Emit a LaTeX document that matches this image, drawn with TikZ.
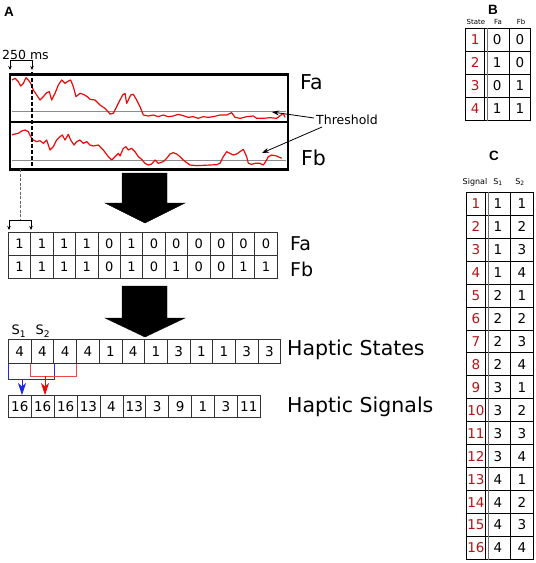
\documentclass[tikz,border=0pt]{standalone}
\usepackage{fontspec}
\setmainfont{DejaVu Sans}
\newfontfamily\labfont{Liberation Sans}
\usetikzlibrary{arrows.meta,calc}
\definecolor{dred}{RGB}{180,20,20}
\definecolor{sigred}{RGB}{235,10,10}
\definecolor{bblue}{RGB}{30,40,230}
\definecolor{bred}{RGB}{240,70,70}
\begin{document}
\begin{tikzpicture}[x=1pt,y=-1pt,
  cell/.style={draw=black!80, line width=0.7pt, inner sep=0pt, anchor=north west, font=\fontsize{13}{13}\selectfont},
  tcell/.style={draw=black, line width=0.9pt, inner sep=0pt, anchor=north west, font=\fontsize{13.5}{13.5}\selectfont},
  biglabel/.style={anchor=west, inner sep=0pt, font=\fontsize{20.5}{20.5}\selectfont},
  panel/.style={inner sep=0pt, font=\labfont\bfseries\fontsize{13.5}{13.5}\selectfont},
  plotbox/.style={draw=black, line width=2.6pt, anchor=north west, inner sep=0pt},
  signal/.style={sigred, line width=1.2pt, line join=round},
  thresh/.style={black!45, line width=0.8pt},
  smallarrow/.style={-{Stealth[length=4pt,width=3.5pt]}, line width=0.7pt},
  bigarrow/.style={fill=black},
  bracketarrow/.style={-{Stealth[length=12pt,width=8pt,inset=3.5pt]}, line width=0.8pt}
]
\useasboundingbox (0,0) rectangle (536,563);

% ---------- Panel labels
\node[panel] (pA) at (9,12) {A};
\node[panel] (pB) at (493,10) {B};
\node[panel] (pC) at (494,156) {C};

% ---------- Panel A: plots
\node[plotbox, minimum width=278pt, minimum height=47.5pt] (boxfa) at (8.7,73.2) {};
\node[plotbox, minimum width=278pt, minimum height=47.5pt] (boxfb) at (8.7,120.7) {};
\node[biglabel] (lfa) at (300,82) {Fa};
\node[biglabel] (lfb) at (301,158) {Fb};

\draw[thresh] (12,111.5) -- (286,111.5);
\draw[thresh] (12,160) -- (286,160);

\begin{scope}[scale=1/3]
\draw[signal] (36,240)--(45,235)--(55,245)--(62,258)--(70,250)--(78,233)--(85,240)--(92,250)--(100,270)--(110,285)--(120,300)--(130,290)--(140,278)--(148,275)--(155,300)--(165,280)--(175,255)--(185,240)--(195,250)--(205,243)--(212,240)--(220,260)--(228,290)--(240,280)--(250,283)--(262,290)--(270,298)--(285,300)--(300,315)--(315,325)--(330,342)--(340,340)--(350,320)--(360,300)--(368,285)--(375,280)--(380,310)--(385,300)--(392,285)--(400,283)--(410,300)--(420,320)--(430,345)--(445,348)--(460,345)--(475,350)--(490,345)--(505,350)--(520,348)--(535,343)--(550,347)--(565,352)--(580,350)--(595,355)--(610,350)--(625,352)--(640,350)--(660,345)--(680,345)--(695,338)--(705,352)--(720,355)--(740,350)--(760,348)--(770,355)--(790,355)--(810,353)--(830,355)--(850,340)--(855,352);
\draw[signal] (36,405)--(45,402)--(55,400)--(65,393)--(75,390)--(85,395)--(92,410)--(100,420)--(110,425)--(120,422)--(130,430)--(140,420)--(150,450)--(160,440)--(170,420)--(180,410)--(187,405)--(195,420)--(205,403)--(212,420)--(222,435)--(230,425)--(240,420)--(250,430)--(260,425)--(270,435)--(280,438)--(295,435)--(310,450)--(325,470)--(335,480)--(345,470)--(355,460)--(360,468)--(370,445)--(378,440)--(385,450)--(395,445)--(405,455)--(415,470)--(425,478)--(435,490)--(445,495)--(455,492)--(465,480)--(475,490)--(490,485)--(500,475)--(510,462)--(520,458)--(530,462)--(540,470)--(550,480)--(560,488)--(570,495)--(590,497)--(610,496)--(630,495)--(650,494)--(660,490)--(670,470)--(680,455)--(690,460)--(700,465)--(710,462)--(720,455)--(730,448)--(740,470)--(745,490)--(755,493)--(765,490)--(780,490)--(790,495)--(800,480)--(805,470)--(815,465)--(830,468)--(845,475);
\end{scope}

% Threshold label and arrows
\node[anchor=west, inner sep=0pt, font=\fontsize{12.5}{12.5}\selectfont] (thr) at (316,120) {Threshold};
\coordinate (thrs1) at (314,118);
\coordinate (thrs2) at (322,127);
\coordinate (thrt1) at (272,112);
\coordinate (thrt2) at (262,153);
\draw[-{Stealth[length=7pt,width=5pt]}, line width=0.8pt] (thrs1) -- (thrt1);
\draw[-{Stealth[length=7pt,width=5pt]}, line width=0.8pt] (thrs2) -- (thrt2);

% 250 ms window
\node[anchor=west, inner sep=0pt, font=\fontsize{12.5}{12.5}\selectfont] (ms) at (2,55) {250 ms};
\coordinate (w1) at (10,60);
\coordinate (w2) at (32,60);
\draw[line width=0.7pt] (w1) -- (w2);
\draw[smallarrow] (w1) -- (10,70);
\draw[smallarrow] (w2) -- (32,70);
\draw[line width=1.2pt, dash pattern=on 4pt off 2pt] (32,72) -- (boxfb.south -| w2);

% window below
\coordinate (d0) at (20,169);
\coordinate (d1) at (20,220);
\draw[black!60, line width=1pt, dash pattern=on 3pt off 1.5pt] (d0) -- (d1);
\draw[line width=0.7pt] (9,220) -- (31,220);
\draw[smallarrow] (9,220) -- (9,230);
\draw[smallarrow] (31,220) -- (31,230);

% big arrows
\draw[bigarrow] (122,173) -- (167,173) -- (167,203) -- (185,203) -- (145,223) -- (105,203) -- (122,203) -- cycle;
\draw[bigarrow] (122,286) -- (167,286) -- (167,318) -- (185,318) -- (145,337) -- (105,318) -- (122,318) -- cycle;

% Fa / Fb binary rows
\foreach \v [count=\i] in {1,1,1,1,0,1,0,0,0,0,0,0}
  \node[cell, minimum width=22.4pt, minimum height=23pt] (fa\i) at ({8+(\i-1)*22.4},232) {\v};
\foreach \v [count=\i] in {1,1,1,1,0,1,0,1,0,0,1,1}
  \node[cell, minimum width=22.4pt, minimum height=23pt] (fb\i) at ({8+(\i-1)*22.4},255) {\v};
\node[biglabel, font=\fontsize{19}{19}\selectfont] (lfa2) at (290,244) {Fa};
\node[biglabel, font=\fontsize{19}{19}\selectfont] (lfb2) at (290,269) {Fb};

% Haptic states
\foreach \v [count=\i] in {4,4,4,4,1,4,1,3,1,1,3,3}
  \node[cell, minimum width=22.7pt, minimum height=24pt, font=\fontsize{13.5}{13.5}\selectfont] (st\i) at ({8+(\i-1)*22.7},339) {\v};
\node[inner sep=0pt, font=\fontsize{13}{13}\selectfont] (s1l) at (19,331) {S\textsubscript{1}};
\node[inner sep=0pt, font=\fontsize{13}{13}\selectfont] (s2l) at (43,331) {S\textsubscript{2}};
\node[biglabel] (lhs) at (287,350) {Haptic States};

% Haptic signals
\foreach \v [count=\i] in {16,16,16,13,4,13,3,9,1,3,11}
  \node[cell, minimum width=22.9pt, minimum height=22pt, font=\fontsize{13.5}{13.5}\selectfont] (sg\i) at ({8+(\i-1)*22.9},395) {\raisebox{-4pt}{\v}};
\node[biglabel] (lhg) at (287,407) {Haptic Signals};

% brackets
\draw[bblue, line width=0.8pt] (st1.south west) -- ++(0,16) -| (st2.south east);
\draw[bred, line width=0.8pt] (st2.south west) -- ++(0,13) -| (st3.south east);
\coordinate (ba) at (22,379);
\coordinate (ra) at (45,376);
\draw[bblue, bracketarrow] (ba) -- (ba |- sg1.north);
\draw[sigred, bracketarrow] (ra) -- (ra |- sg2.north);

% ---------- Panel B
\node[inner sep=0pt, font=\fontsize{7}{7}\selectfont] (hbs) at (476,22) {State};
\node[inner sep=0pt, font=\fontsize{7}{7}\selectfont] (hba) at (498,22) {Fa};
\node[inner sep=0pt, font=\fontsize{7}{7}\selectfont] (hbb) at (521,22) {Fb};
\foreach \a/\b [count=\i] in {0/0,1/0,0/1,1/1}{
  \node[tcell, minimum width=19.3pt, minimum height=23pt, text=dred] (bs\i) at (465,{28+(\i-1)*23}) {\i};
  \node[tcell, minimum width=24.8pt, minimum height=23pt] (ba\i) at (484.3,{28+(\i-1)*23}) {\a};
  \node[tcell, minimum width=20.9pt, minimum height=23pt] (bb\i) at (509.1,{28+(\i-1)*23}) {\b};
}
\draw[black!55, line width=0.7pt] ([xshift=2.3pt]bs1.north east) -- ([xshift=2.3pt]bs4.south east);

% ---------- Panel C
\node[inner sep=0pt, font=\fontsize{8}{8}\selectfont] (hcs) at (475,182) {Signal};
\node[inner sep=0pt, font=\fontsize{8}{8}\selectfont] (hc1) at (498,182) {S\textsubscript{1}};
\node[inner sep=0pt, font=\fontsize{8}{8}\selectfont] (hc2) at (520,182) {S\textsubscript{2}};
\foreach \i in {1,...,16}{
  \pgfmathtruncatemacro{\sa}{int((\i-1)/4)+1}
  \pgfmathtruncatemacro{\sb}{mod(\i-1,4)+1}
  \node[tcell, minimum width=19.3pt, minimum height=22.95pt, text=dred] (cs\i) at (465.8,{191.8+(\i-1)*22.95}) {\i};
  \node[tcell, minimum width=24.8pt, minimum height=22.95pt] (ca\i) at (485.1,{191.8+(\i-1)*22.95}) {\sa};
  \node[tcell, minimum width=23.3pt, minimum height=22.95pt] (cb\i) at (509.9,{191.8+(\i-1)*22.95}) {\sb};
}
\draw[black!55, line width=0.7pt] ([xshift=2.3pt]cs1.north east) -- ([xshift=2.3pt]cs16.south east);
\end{tikzpicture}
\end{document}
